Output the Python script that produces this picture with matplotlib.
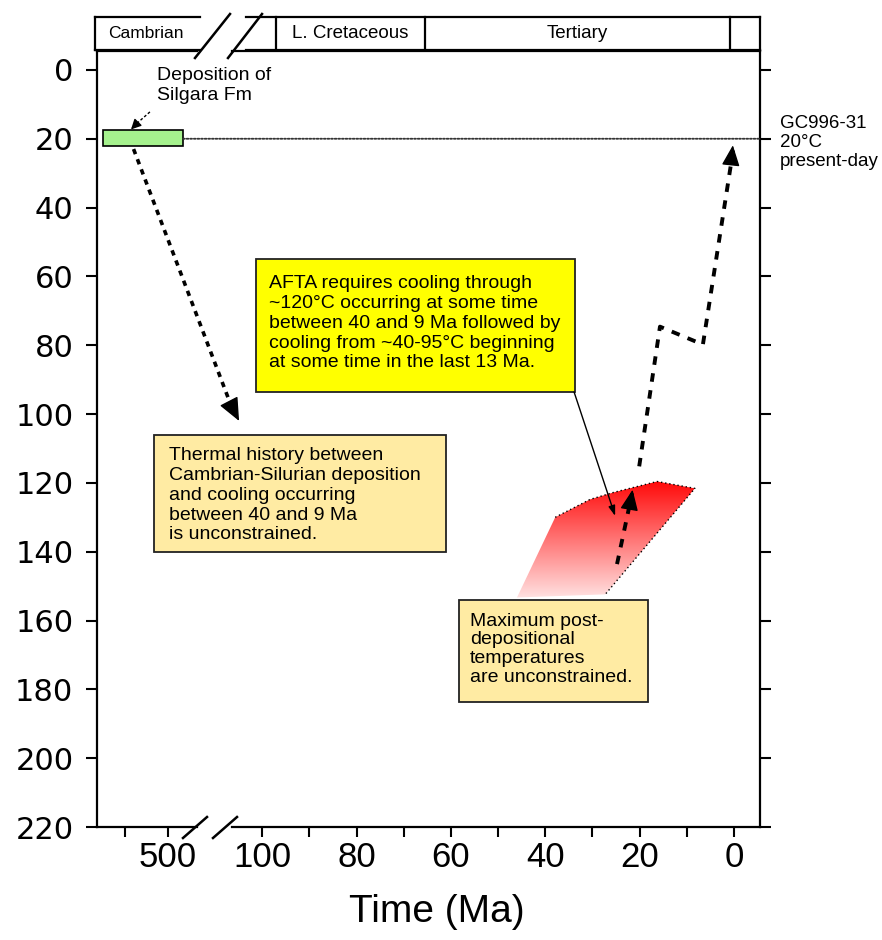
import numpy as np
import matplotlib
matplotlib.use("Agg")
import matplotlib.pyplot as plt
from matplotlib.patches import Rectangle, Polygon, ConnectionPatch
from matplotlib.colors import LinearSegmentedColormap
from matplotlib.lines import Line2D

# ---------------- data ----------------
temp_ticks = [0, 20, 40, 60, 80, 100, 120, 140, 160, 180, 200, 220]
old_ticks = [520, 500]
old_labels = ["", "500"]
young_ticks = [100, 90, 80, 70, 60, 50, 40, 30, 20, 10, 0]
young_labels = ["100", "", "80", "", "60", "", "40", "", "20", "", "0"]

deposition_age = [530, 493]        # Ma
deposition_temp = [17.5, 22.0]     # degC
present_temp = 20

# envelope of maximum post-depositional temperatures (Ma, degC)
env_time = [37.9, 30.5, 25.6, 16.3, 8.3, 27.3, 46.0]
env_temp = [130.0, 124.8, 122.8, 119.6, 121.6, 152.4, 153.3]

# cooling path (Ma, degC)
path_time = [20.1, 15.7, 6.6, 0.2]
path_temp = [115.2, 74.6, 79.8, 23.4]

# short cooling arrow inside envelope
inner_time = [24.8, 21.6]
inner_temp = [143.6, 123.0]

periods = ["L. Cretaceous", "Tertiary", ""]
period_start = [97.0, 65.5, 0.8]
period_end = [65.5, 0.8, -5.5]

# ---------------- figure ----------------
W, H = 882, 940
fig = plt.figure(figsize=(W / 100, H / 100), dpi=100)
FONT = ["Liberation Sans", "DejaVu Sans"]

def fbox(x0, y0, x1, y1):
    return [x0 / W, 1 - y1 / H, (x1 - x0) / W, (y1 - y0) / H]

ax_l = fig.add_axes(fbox(97, 51, 197, 827))
ax_r = fig.add_axes(fbox(232, 51, 760, 827), sharey=ax_l)
ax_r.patch.set_visible(False)

ax_l.set_xlim(533.0, 486.5)
ax_r.set_xlim(106.4, -5.5)
ax_l.set_ylim(220, -5.5)

for ax in (ax_l, ax_r):
    for s in ax.spines.values():
        s.set_linewidth(1.6)
ax_l.spines["right"].set_visible(False)
ax_r.spines["left"].set_visible(False)

ax_l.set_yticks(temp_ticks)
ax_l.set_yticklabels([str(t) for t in temp_ticks], family="DejaVu Sans", fontsize=22)
ax_l.tick_params(axis="y", direction="out", length=8, width=1.5, pad=9)
ax_r.tick_params(axis="y", left=False, right=True, labelleft=False, labelright=False,
                 direction="out", length=8, width=1.5)

ax_l.set_xticks(old_ticks)
ax_l.set_xticklabels(old_labels, family=FONT, fontsize=25)
ax_r.set_xticks(young_ticks)
ax_r.set_xticklabels(young_labels, family=FONT, fontsize=25)
for ax in (ax_l, ax_r):
    ax.tick_params(axis="x", direction="out", length=7, width=1.5, pad=3)

fig.text(437 / W, 1 - 912 / H, "Time (Ma)", ha="center", va="center",
         fontsize=28, family=FONT)

HEAD = "-|>,head_length=0.8,head_width=0.35"

def solid_head(ax, tip, tail, xycoords="data", scale=16):
    ax.annotate("", xy=tip, xytext=tail, xycoords=xycoords, textcoords=xycoords,
                arrowprops=dict(arrowstyle=HEAD, lw=1.0, color="black",
                                shrinkA=0, shrinkB=0, mutation_scale=scale),
                annotation_clip=False, zorder=7)

# ---------------- deposition bar & present-day line ----------------
ax_l.barh((deposition_temp[0] + deposition_temp[1]) / 2,
          deposition_age[1] - deposition_age[0], left=deposition_age[0],
          height=deposition_temp[1] - deposition_temp[0],
          color="#a6f28e", edgecolor="black", linewidth=1.2, zorder=3)
con = ConnectionPatch(xyA=(deposition_age[1], present_temp), coordsA=ax_l.transData,
                      xyB=(-5.5, present_temp), coordsB=ax_r.transData,
                      linestyle=(0, (1, 1)), linewidth=1.3, color="#333333")
fig.add_artist(con)

ax_l.text(505.1, 4.6, "Deposition of\nSilgara Fm", ha="left", va="center",
          fontsize=14, family=FONT, linespacing=1.2, zorder=8)
ax_l.plot([508.4, 516.0], [12.2, 16.4], color="black", lw=1.0,
          linestyle=(0, (2, 1.5)))
ax_l.annotate("", xy=(517.2, 17.3), xytext=(515.0, 15.9),
              arrowprops=dict(arrowstyle="-|>,head_length=0.5,head_width=0.25",
                              lw=1.0, color="black", shrinkA=0, shrinkB=0,
                              mutation_scale=12))

# long dashed arrow from deposition to thermal box
con2 = ConnectionPatch(xyA=(516, 23.0), coordsA=ax_l.transData,
                       xyB=(106.6, 97.5), coordsB=ax_r.transData,
                       linestyle=(0, (1.5, 1.5)), linewidth=2.6, color="black",
                       capstyle="butt")
fig.add_artist(con2)
solid_head(ax_r, (104.9, 102.0), (106.6, 97.5), scale=18)

# ---------------- envelope with gradient ----------------
verts = list(zip(env_time, env_temp))
poly = Polygon(verts, closed=True, facecolor="none", edgecolor="none",
               transform=ax_r.transData)
ax_r.add_patch(poly)
cmap = LinearSegmentedColormap.from_list("redwhite", ["#ffffff", "#ff0000"])
grad = np.linspace(0, 1, 256).reshape(-1, 1)
im = ax_r.imshow(grad, extent=(50, 5, 158, 118), origin="lower", cmap=cmap,
                 aspect="auto", zorder=1, interpolation="bilinear")
im.set_clip_path(poly)
ax_r.plot(env_time[:6], env_temp[:6], linestyle=(0, (1, 2)), color="black",
          lw=1.0, zorder=2)

# ---------------- cooling paths ----------------
ax_r.plot(path_time, path_temp, color="black", lw=2.8,
          linestyle=(0, (2.2, 2.2)), zorder=4)
solid_head(ax_r, (path_time[3] + 0.05, path_temp[3] - 1.5),
           (path_time[3] + 0.4, path_temp[3] + 3.0))
ax_r.plot(inner_time, inner_temp, color="black", lw=2.8,
          linestyle=(0, (2.2, 2.2)), zorder=4)
solid_head(ax_r, (inner_time[1] - 0.1, inner_temp[1] - 1.0),
           (inner_time[1] + 0.4, inner_temp[1] + 3.0))

# ---------------- text boxes ----------------
def box(ax, x0, x1, t0, t1, color):
    r = Rectangle((x0, t0), x1 - x0, t1 - t0, facecolor=color, edgecolor="#222222",
                  linewidth=1.3, zorder=5, clip_on=False)
    ax.add_patch(r)

TXT = dict(ha="left", va="center", fontsize=14, family=FONT, linespacing=1.22,
           zorder=6)

box(ax_r, 122.9, 61.0, 106.1, 140.1, "#ffeba3")
ax_r.text(119.7, 123.6,
          "Thermal history between\nCambrian-Silurian deposition\nand cooling occurring\n"
          "between 40 and 9 Ma\nis unconstrained.", **TXT)

box(ax_r, 101.3, 33.7, 54.9, 93.6, "#ffff00")
ax_r.text(98.6, 73.6,
          "AFTA requires cooling through\n~120\u00b0C occurring at some time\n"
          "between 40 and 9 Ma followed by\ncooling from ~40-95\u00b0C beginning\n"
          "at some time in the last 13 Ma.", **TXT)
ax_r.annotate("", xy=(25.2, 129.6), xytext=(33.9, 93.6),
              arrowprops=dict(arrowstyle="-|>,head_length=0.6,head_width=0.2",
                              lw=1.0, color="black", shrinkA=0, shrinkB=0),
              zorder=6)

box(ax_r, 58.3, 18.2, 154.0, 183.7, "#ffeba3")
ax_r.text(56.0, 168.4,
          "Maximum post-\ndepositional\ntemperatures\nare unconstrained.",
          **dict(TXT, linespacing=1.15))

ax_r.text(-9.7, 21, "GC996-31\n20\u00b0C\npresent-day", ha="left", va="center",
          fontsize=13.5, family=FONT, linespacing=1.15)

ax_r.set_xlim(106.4, -5.5)
ax_l.set_ylim(220, -5.5)

# ---------------- header (geological periods) ----------------
hdr_l = fig.add_axes(fbox(95, 17, 200, 50))
hdr_r = fig.add_axes(fbox(232, 17, 760, 50))
for h in (hdr_l, hdr_r):
    h.set_axis_off()
    h.set_ylim(0, 1)
hdr_l.set_xlim(0, 1)
hdr_r.set_xlim(ax_r.get_xlim())
hdr_l.plot([0, 1], [1, 1], color="black", lw=1.6, clip_on=False)
hdr_l.plot([0, 1], [0, 0], color="black", lw=1.6, clip_on=False)
hdr_l.plot([0, 0], [0, 1], color="black", lw=1.6, clip_on=False)
hdr_l.text(0.48, 0.5, "Cambrian", ha="center", va="center", fontsize=12.5, family=FONT)
xr = ax_r.get_xlim()
hdr_r.plot([period_start[0] + 6.5, xr[1]], [1, 1], color="black", lw=1.6, clip_on=False)
hdr_r.plot([period_start[0] + 6.5, xr[1]], [0, 0], color="black", lw=1.6, clip_on=False)
for s in period_start + [xr[1]]:
    hdr_r.plot([s, s], [0, 1], color="black", lw=1.6, clip_on=False)
for name, s, e in zip(periods, period_start, period_end):
    if name:
        hdr_r.text((s + e) / 2, 0.5, name, ha="center", va="center", fontsize=13.5,
                   family=FONT)

# break marks
def brk(x0, y0, x1, y1):
    fig.add_artist(Line2D([x0 / W, x1 / W], [1 - y0 / H, 1 - y1 / H],
                          color="black", lw=1.8, transform=fig.transFigure))

brk(195, 58, 230, 14)
brk(228, 58, 262, 14)
brk(183, 838, 207, 817)
brk(213, 838, 237, 817)

fig.savefig("out.png", dpi=100)
